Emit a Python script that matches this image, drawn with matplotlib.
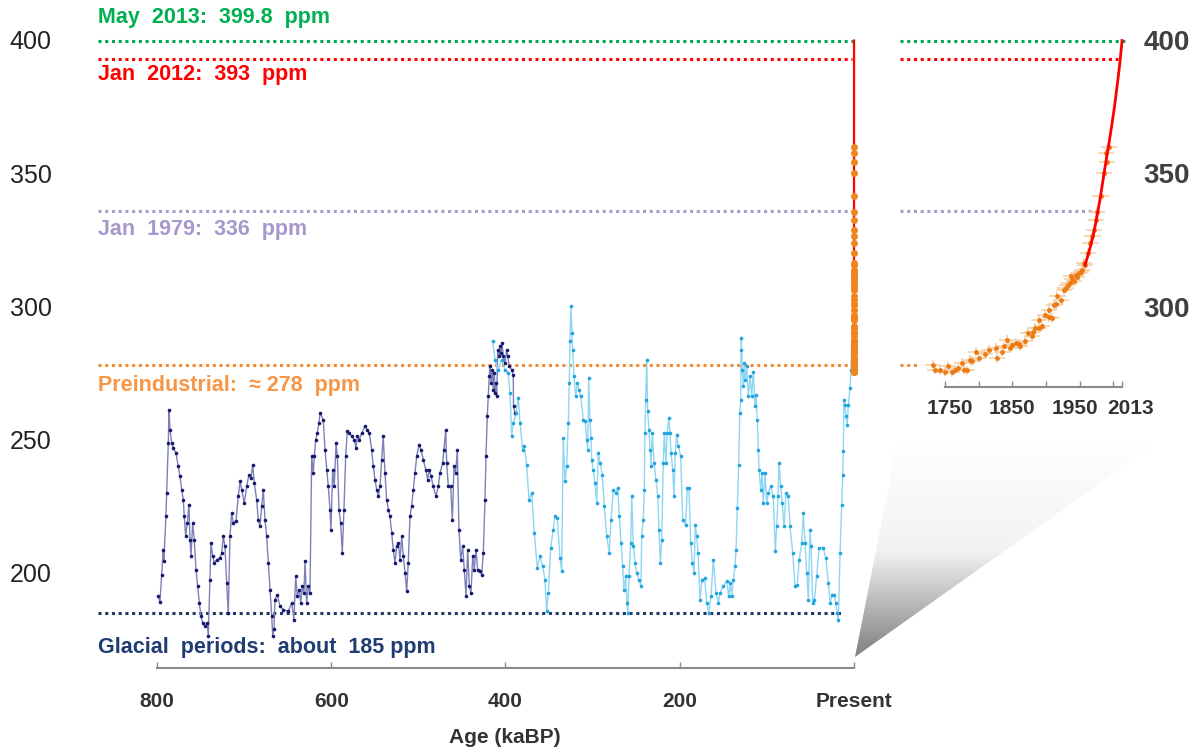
import numpy as np
import matplotlib
matplotlib.use('Agg')
from matplotlib import pyplot as plt
from matplotlib.patches import Polygon
from matplotlib.colors import LinearSegmentedColormap
from matplotlib.transforms import blended_transform_factory

plt.rcParams['font.family'] = ['Liberation Sans', 'DejaVu Sans']

# Ice core record, older part (kaBP, ppm)
navyAge = [798.5, 796.6, 794.6, 792.8, 792.2, 789.7, 788.9, 787.0, 786.2, 785.1,
           783.1, 781.3, 778.2, 775.6, 773.6, 771.6, 769.8, 768.7, 767.1, 765.2,
           763.3, 762.1, 761.0, 759.0, 757.2, 755.2, 753.3, 751.4, 749.5, 747.5,
           744.9, 742.3, 741.1, 739.2, 738.0, 736.1, 734.2, 731.5, 727.7, 725.7,
           723.9, 722.0, 720.0, 718.2, 716.2, 714.3, 712.4, 709.3, 706.7, 704.7,
           702.8, 699.8, 697.0, 694.4, 692.1, 690.2, 688.3, 685.6, 683.7, 681.8,
           679.8, 678.0, 676.0, 674.1, 672.2, 670.3, 668.3, 667.2, 665.7, 664.6,
           661.9, 658.8, 655.0, 649.3, 645.4, 642.8, 640.8, 639.0, 636.7, 635.1,
           633.2, 631.3, 630.1, 628.2, 626.3, 624.4, 622.4, 620.6, 619.4, 617.8,
           616.0, 614.1, 612.9, 609.1, 607.2, 605.2, 603.4, 601.4, 600.3, 598.3,
           596.5, 594.5, 593.0, 591.1, 589.2, 587.3, 585.4, 583.4, 581.6, 579.3,
           576.5, 573.5, 571.6, 570.1, 567.8, 565.0, 561.3, 558.6, 556.3, 553.6,
           551.7, 549.8, 547.8, 546.0, 544.0, 542.1, 540.3, 538.3, 536.4, 534.5,
           532.6, 530.6, 528.8, 526.8, 524.9, 523.0, 521.1, 519.1, 517.3, 515.3,
           513.4, 511.6, 509.6, 507.7, 505.8, 503.9, 501.9, 499.3, 497.0, 494.3,
           491.6, 489.3, 487.5, 485.5, 482.9, 479.8, 477.1, 475.2, 472.1, 470.6,
           468.6, 467.5, 465.6, 462.9, 461.0, 459.1, 457.2, 455.3, 453.4, 451.4,
           449.1, 447.3, 445.3, 443.4, 441.5, 439.6, 437.6, 435.8, 433.9, 431.9,
           429.3, 427.3, 425.5, 423.5, 422.4, 420.9, 419.8, 418.6, 417.8, 416.6,
           415.1, 414.0, 412.8, 412.0, 410.9, 410.1, 408.9, 407.5, 406.3, 405.2,
           404.0, 402.5, 400.6, 398.6, 397.5, 395.6, 392.9, 391.1, 390.8, 389.1]
navyPpm = [191.3, 189.0, 199.4, 208.8, 204.4, 221.3, 230.0, 248.8, 261.3, 253.8,
           248.8, 246.9, 245.0, 240.0, 236.3, 231.3, 227.5, 221.3, 213.8, 218.8,
           225.6, 212.5, 206.3, 218.8, 212.5, 201.3, 195.0, 188.8, 183.8, 181.3,
           180.0, 181.3, 176.3, 197.5, 211.3, 206.3, 203.8, 205.0, 205.6, 207.5,
           213.8, 210.0, 196.3, 185.0, 213.8, 222.5, 218.8, 219.4, 228.8, 234.4,
           231.3, 226.3, 232.5, 236.9, 235.6, 240.6, 233.8, 227.5, 220.0, 217.5,
           225.0, 231.3, 220.0, 213.8, 203.8, 193.8, 183.8, 176.3, 178.8, 190.0,
           191.9, 187.5, 186.3, 185.6, 188.8, 182.5, 198.8, 191.3, 193.8, 188.8,
           195.0, 192.5, 204.4, 188.8, 195.0, 192.5, 243.8, 237.5, 243.8, 250.0,
           252.5, 256.3, 260.0, 257.5, 246.3, 238.8, 232.5, 223.8, 216.3, 238.8,
           232.5, 248.8, 243.8, 223.8, 218.8, 207.5, 223.8, 243.8, 253.1, 252.5,
           251.3, 250.0, 246.9, 251.3, 250.0, 252.5, 255.0, 253.8, 252.5, 246.3,
           240.0, 235.0, 231.3, 228.8, 232.5, 242.5, 251.3, 237.5, 227.5, 223.8,
           221.3, 215.0, 208.8, 203.8, 210.0, 211.3, 205.0, 213.8, 206.3, 200.0,
           193.1, 203.8, 221.3, 225.0, 231.3, 237.5, 243.8, 248.1, 246.3, 242.5,
           238.8, 235.0, 238.8, 236.3, 232.5, 228.8, 232.5, 237.5, 241.3, 246.3,
           253.8, 241.3, 232.5, 232.5, 220.0, 240.0, 237.5, 246.3, 216.3, 205.0,
           210.0, 201.3, 191.3, 208.8, 195.0, 192.5, 206.3, 201.3, 208.8, 201.3,
           200.6, 199.4, 207.5, 227.5, 243.8, 258.8, 266.3, 273.8, 277.5, 271.3,
           276.3, 268.8, 275.0, 267.5, 271.3, 266.3, 283.8, 281.3, 285.0, 282.5,
           286.3, 281.3, 278.8, 283.8, 281.3, 277.5, 276.3, 274.4, 262.5, 260.0]

# Ice core record, younger part (kaBP, ppm)
blueAge = [414.7, 412.0, 408.3, 404.4, 400.6, 396.8, 394.8, 392.9, 391.1, 387.9,
           385.3, 383.3, 380.3, 378.4, 375.7, 373.0, 369.9, 366.9, 363.5, 360.4,
           357.3, 354.7, 352.7, 350.9, 348.1, 345.2, 343.2, 340.5, 337.4, 335.5,
           333.7, 331.7, 329.8, 327.9, 326.8, 326.0, 324.8, 323.7, 322.9, 321.4,
           319.4, 317.6, 315.6, 313.7, 310.7, 308.4, 306.8, 305.6, 304.5, 303.0,
           301.8, 301.0, 299.2, 297.3, 295.3, 293.5, 291.5, 288.9, 286.6, 283.8,
           280.9, 278.9, 276.3, 273.5, 271.2, 269.4, 267.4, 265.5, 264.0, 262.0,
           260.5, 259.7, 258.2, 256.3, 255.1, 253.3, 251.3, 249.4, 246.8, 244.5,
           243.7, 241.8, 240.7, 239.9, 239.1, 237.9, 236.8, 235.3, 234.1, 233.0,
           231.5, 229.5, 227.3, 225.3, 223.8, 222.3, 220.7, 218.9, 217.7, 215.8,
           214.3, 212.7, 211.2, 210.0, 208.1, 206.6, 205.1, 203.5, 201.6, 198.9,
           196.6, 193.2, 191.3, 189.4, 187.4, 185.6, 183.6, 182.1, 180.5, 179.0,
           176.7, 174.4, 171.4, 169.1, 166.8, 164.1, 161.5, 158.4, 155.7, 153.8,
           150.0, 146.1, 143.8, 142.0, 140.4, 138.5, 136.6, 135.4, 133.9, 132.3,
           131.2, 130.0, 129.7, 129.3, 128.2, 127.0, 125.9, 124.7, 123.1, 121.3,
           119.3, 117.4, 115.6, 113.6, 112.5, 111.0, 109.8, 109.0, 107.1, 105.6,
           104.1, 102.1, 100.2, 98.3, 95.6, 92.6, 90.3, 88.7, 87.2, 86.1,
           84.1, 82.3, 80.3, 78.0, 75.4, 73.4, 70.3, 67.7, 65.1, 62.8,
           60.0, 58.2, 56.2, 54.3, 52.4, 50.5, 49.3, 47.4, 45.5, 42.8,
           40.1, 35.2, 32.4, 29.5, 27.5, 24.9, 22.9, 21.0, 19.2, 18.0,
           16.0, 14.1, 12.9, 12.3, 11.5, 10.3, 9.2, 7.7, 6.5, 4.6, 3.4, 2.7, 1.5]
bluePpm = [286.9, 280.0, 276.3, 280.0, 276.3, 275.0, 267.5, 251.3, 256.3, 260.0,
           265.6, 256.3, 246.3, 247.5, 240.6, 227.5, 230.0, 215.0, 201.9, 206.3,
           202.5, 197.5, 185.6, 192.5, 209.4, 216.3, 221.3, 220.6, 205.6, 200.6,
           250.6, 234.4, 240.0, 256.3, 271.3, 286.9, 300.0, 290.0, 283.8, 273.8,
           266.3, 271.3, 268.8, 266.3, 257.5, 256.9, 250.0, 246.3, 273.1, 257.5,
           250.6, 242.5, 238.8, 233.8, 226.3, 245.0, 241.3, 236.9, 225.0, 213.8,
           207.5, 220.0, 231.3, 230.0, 231.9, 221.3, 211.3, 202.5, 193.8, 198.8,
           188.8, 185.0, 198.8, 211.3, 228.8, 210.0, 203.8, 200.0, 197.5, 195.0,
           213.8, 220.0, 231.3, 252.5, 265.0, 280.0, 260.6, 253.8, 246.3, 240.0,
           252.5, 241.3, 235.0, 228.8, 216.3, 203.8, 212.5, 241.3, 252.5, 241.3,
           252.5, 258.1, 252.5, 245.0, 238.8, 228.8, 245.0, 251.9, 247.5, 243.8,
           220.0, 218.1, 231.9, 231.9, 211.3, 203.8, 200.0, 218.1, 213.8, 207.5,
           190.0, 197.5, 198.1, 188.8, 185.0, 191.3, 205.0, 192.5, 188.8, 192.5,
           195.0, 196.9, 191.3, 196.3, 191.3, 197.5, 202.5, 208.8, 224.4, 240.6,
           260.0, 265.0, 283.8, 288.1, 276.3, 270.0, 278.8, 272.5, 277.5, 266.3,
           273.8, 266.3, 275.6, 262.5, 266.9, 257.5, 246.3, 238.8, 231.3, 237.5,
           226.3, 237.5, 226.3, 230.0, 232.5, 228.8, 208.1, 217.5, 228.8, 241.3,
           232.5, 226.3, 217.5, 230.0, 228.8, 217.5, 207.5, 195.0, 195.6, 205.0,
           211.3, 222.5, 211.3, 200.0, 190.0, 216.3, 210.0, 188.8, 190.0, 198.8,
           209.4, 209.4, 205.6, 196.3, 188.8, 191.9, 191.9, 188.8, 185.0, 182.2,
           207.5, 225.6, 236.9, 245.6, 265.0, 263.1, 258.8, 255.6, 263.1, 269.4, 276.3, 285.6, 278.8]

# Ice core, industrial era (year, ppm)
lawYear = [1732, 1735, 1742, 1750, 1755, 1760, 1765, 1770, 1775, 1778,
           1783, 1787, 1790, 1796, 1800, 1810, 1815, 1825, 1827, 1835,
           1838, 1842, 1847, 1850, 1855, 1860, 1862, 1869, 1874, 1879,
           1880, 1884, 1889, 1890, 1894, 1899, 1904, 1905, 1909, 1912,
           1915, 1917, 1922, 1927, 1929, 1932, 1935, 1937, 1939, 1941,
           1944, 1946, 1949, 1952, 1954, 1956, 1958, 1962, 1966, 1969,
           1971, 1974, 1976, 1981, 1986, 1989, 1991, 1994]
lawPpm = [278.1, 276.3, 276.0, 275.6, 277.8, 275.3, 276.3, 276.8, 278.8, 276.3,
          276.0, 280.0, 279.5, 283.1, 280.6, 282.0, 283.8, 284.4, 280.6, 283.1,
          285.0, 287.5, 284.4, 285.5, 286.3, 286.0, 285.0, 286.9, 290.0, 288.8,
          290.5, 291.9, 295.0, 292.0, 292.5, 296.9, 298.8, 296.0, 295.6, 300.6,
          301.0, 303.8, 302.5, 306.3, 307.0, 308.1, 309.0, 311.3, 310.5, 309.4,
          311.9, 311.0, 312.5, 312.8, 313.8, 316.3, 315.5, 320.0, 323.8, 326.3,
          328.8, 332.5, 335.6, 341.3, 350.0, 357.5, 354.4, 360.0]

# Direct measurements (year, ppm)
mloYear = [1958, 1962, 1966, 1970, 1974, 1978, 1982, 1986, 1990, 1994, 1998, 2002, 2006, 2010, 2013]
mloPpm = [315.5, 319.0, 322.5, 326.5, 331.5, 337.0, 343.0, 349.5, 356.0, 362.0, 368.5, 375.5, 383.5, 392.0, 399.8]

# Reference levels
refPpm = [399.8, 393, 336, 278, 185]
refLabels = ['May  2013:  399.8  ppm', 'Jan  2012:  393  ppm', 'Jan  1979:  336  ppm',
             'Preindustrial:  \u2248 278  ppm', 'Glacial  periods:  about  185 ppm']
refColours = ['#00b050', '#ff0000', '#a697cc', '#f79646', '#1f3d73']
lineColours = ['#00a84f', '#ff0000', '#a99bd0', '#f58a30', '#1f3864']

# Inset year labels
insetTicks = [1750, 1800, 1850, 1900, 1950, 2000, 2013]
insetLabels = ['1750', '1850', '1950', '2013']

W, H = 1198, 747
fig = plt.figure(figsize=(W / 100, H / 100), dpi=100)

def pxBox(left, top, right, bottom):
	return [left / W, 1 - bottom / H, (right - left) / W, (bottom - top) / H]

# Gray "zoom" wedge drawn in pixel space behind everything
wedgeAx = fig.add_axes([0, 0, 1, 1], zorder=0)
wedgeAx.set_xlim(0, W)
wedgeAx.set_ylim(H, 0)
wedgeAx.axis('off')
grey = LinearSegmentedColormap.from_list('grey', ['#ffffff', '#f2f2f2', '#7c7c7c'])
grad = np.linspace(0, 1, 256).reshape(-1, 1)
im = wedgeAx.imshow(grad, cmap=grey, extent=(850, 1160, 660, 442), aspect='auto')
wedge = Polygon([(855, 657), (897, 444), (1155, 444)], closed=True, transform=wedgeAx.transData)
im.set_clip_path(wedge)

# Main axes
ax = fig.add_axes(pxBox(60, 0, 900, 668), zorder=2)
ax.patch.set_alpha(0)
ax.set_xlim(911.3, -52.8)
ax.set_ylim(164.35, 415.0)

ax.plot(navyAge, navyPpm, '-', color='#7d80b8', lw=1.0, zorder=3)
ax.plot(navyAge, navyPpm, 'o', color='#16186e', ms=2.6, mew=0, zorder=4)
ax.plot(blueAge, bluePpm, '-', color='#8fd6f2', lw=1.0, zorder=3)
ax.plot(blueAge, bluePpm, 'o', color='#1ea5e0', ms=2.6, mew=0, zorder=4)

mloAge = [(1950 - y) / 1000 for y in mloYear]
lawAge = [(1950 - y) / 1000 for y in lawYear]
ax.plot(mloAge, mloPpm, color='#ff0000', lw=1.6, zorder=5)
ax.plot(lawAge, lawPpm, 'o', color='#f0841e', ms=5, mew=0, zorder=6)

dotStyle = (0, (1, 1.2))
mainEnds = [-3.5, 2.3, 2.3, 1.5, 13.5]
for lvl, end, col in zip(refPpm, mainEnds, lineColours):
	ax.plot([867.7, end], [lvl, lvl], ls=dotStyle, lw=2.2, color=col, zorder=2)

labelY = [408.3, 386.9, 328.7, 270.5, 171.9]
for lbl, ly, col in zip(refLabels, labelY, refColours):
	ax.text(867.7, ly, lbl, color=col, fontsize=15.5, fontweight='bold', va='center', ha='left')

for side in ['top', 'right', 'left']:
	ax.spines[side].set_visible(False)
ax.spines['bottom'].set_bounds(0, 800)
ax.spines['bottom'].set_color('#8a8a8a')
ax.spines['bottom'].set_linewidth(1.5)

ax.set_yticks([200, 250, 300, 350, 400])
ax.tick_params(axis='y', length=0, pad=6, labelsize=18, labelcolor='#222222')
ax.set_xticks([800, 600, 400, 200, 0], ['800', '600', '400', '200', 'Present'])
ax.tick_params(axis='x', direction='in', length=4, width=1, color='#8a8a8a', pad=17,
			   labelsize=15, labelcolor='#333333')
for t in ax.get_xticklabels():
	t.set_fontweight('bold')
ax.text(0.53, -0.104, 'Age (kaBP)', transform=ax.transAxes, ha='center', va='center',
		fontsize=15, fontweight='bold', color='#333333')

# Inset: industrial era
ax2 = fig.add_axes(pxBox(895, 0, 1135, 387), zorder=2)
ax2.patch.set_alpha(0)
ax2.set_xlim(1675.7, 2032.2)
ax2.set_ylim(269.8, 415.0)

ax2.errorbar(lawYear, lawPpm, xerr=12, yerr=1.8, fmt='o', ms=3.5, mew=0, color='#ee7a12',
			 ecolor='#f5d0a8', elinewidth=1.2, zorder=4)
ax2.plot(mloYear, mloPpm, color='#ff0000', lw=2, zorder=5)

insetEnds = [2017.3, 2007.0, 1972.8, 1712.9]
for lvl, end, col in zip(refPpm[:4], insetEnds, lineColours[:4]):
	ax2.plot([1683.2, end], [lvl, lvl], ls=dotStyle, lw=2.2, color=col, zorder=2)

for side in ['top', 'right', 'left']:
	ax2.spines[side].set_visible(False)
ax2.spines['bottom'].set_bounds(1750, 2013)
ax2.spines['bottom'].set_color('#8a8a8a')
ax2.spines['bottom'].set_linewidth(1.5)
ax2.set_xticks(insetTicks, [''] * len(insetTicks))
ax2.tick_params(axis='x', direction='in', length=4, width=1, color='#8a8a8a')

# year labels sit a little off their ticks, as in the original
blend = blended_transform_factory(ax2.transData, ax2.transAxes)
for yr, lbl in zip([1757, 1850, 1943, 2026], insetLabels):
	ax2.text(yr, -0.055, lbl, transform=blend, ha='center', va='center',
			 fontsize=15, fontweight='bold', color='#333333')

ax2.yaxis.tick_right()
ax2.set_yticks([300, 350, 400])
ax2.tick_params(axis='y', length=0, pad=6, labelsize=20, labelcolor='#404040')
for t in ax2.get_yticklabels():
	t.set_fontweight('bold')

fig.savefig('out.png', dpi=100)
